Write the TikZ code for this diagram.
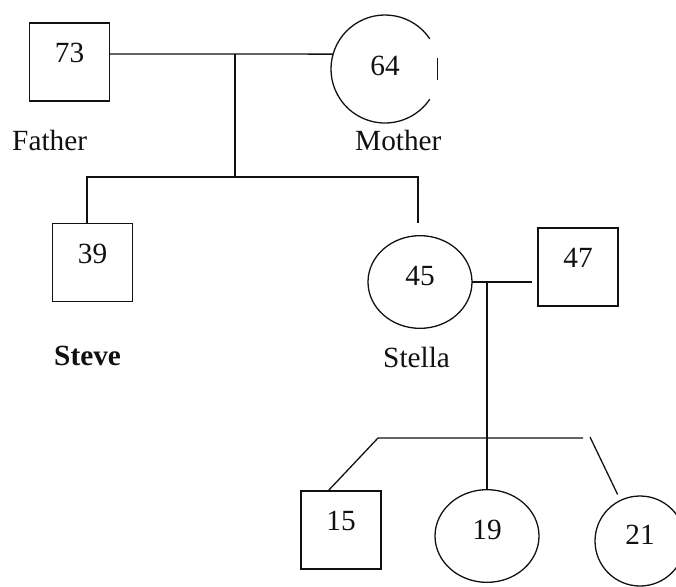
\documentclass[tikz,border=0pt]{standalone}
\usepackage{fontspec}
\setmainfont{Liberation Serif}
\usetikzlibrary{shapes.geometric}
\definecolor{ink}{HTML}{111111}
\newcommand{\pedfont}{\fontsize{25}{30}\selectfont}
\tikzset{
  every node/.style={text=ink, font=\pedfont},
  % males are squares, females ellipses; the age sits a little above the middle
  male/.style={draw=ink, rectangle, line width=1.1pt, outer sep=0pt,
               minimum width=2.4cm, minimum height=2.34cm, text depth=0.54cm},
  female/.style={draw=ink, ellipse, line width=1.1pt, outer sep=0pt,
                 minimum width=3.12cm, minimum height=2.78cm, text depth=0.36cm},
  who/.style={anchor=base west, inner sep=0pt},
  kin/.style={draw=ink, line width=1.1pt},
}

\begin{document}
\begin{tikzpicture}[x=0.03cm, y=-0.03cm]
  \useasboundingbox (0,0) rectangle (676,586);

  % ---- parents ----
  \node[male] (f73) at (69.5,62) {73};
  \node[female, circle, draw=none, minimum size=3.24cm, text depth=0.2cm] (m64) at (385,69) {64};
  % the mother's circle is broken on the right
  \draw[kin] (m64.34) arc[start angle=34, end angle=326, radius=1.62cm];
  \draw[kin] (m64.-12) -- (m64.12);
  \node[who] (father) at (12,150) {Father};
  \node[who] (mother) at (355,150) {Mother};

  \coordinate (p1) at (235,54);
  \coordinate (p2) at (235,177);
  \coordinate (p3) at (87,177);
  \coordinate (p4) at (418,177);
  \coordinate (p5) at (418,223);

  \draw[kin] ([yshift=0.24cm]f73.east) -- (m64.164);
  \draw[kin] (p1) -- (p2);

  % ---- children ----
  \node[male]   (s39) at (92.5,262.5) {39};
  \node[female] (s45) at (420,282) {45};
  \node[male]   (h47) at (578,267) {47};
  \node[who] (steve)  at (54,365)  {\textbf{Steve}};
  \node[who] (stella) at (383,367) {Stella};

  \draw[kin] (s39.north -| p3) -- (p3) -- (p4) -- (p5);
  \draw[kin, shorten >=0.18cm] (s45.east) -- (s45.east -| h47.west);

  % ---- grandchildren ----
  \node[male]   (g15) at (341,530) {15};
  \node[female] (d19) at (487,536) {19};
  \node[female, minimum width=2.7cm, minimum height=2.7cm] (d21) at (640,541) {21};

  \coordinate (q0) at (487,282);
  \coordinate (q1) at (487,438);
  \coordinate (q2) at (378,438);
  \coordinate (q3) at (583,438);
  \coordinate (q4) at (590,437);

  \draw[kin] (q0) -- (q1);
  \draw[kin] ([xshift=-0.39cm]g15.north) -- (q2) -- (q3);
  \draw[kin] (q1) -- (d19.north);
  \draw[kin, shorten >=0.2cm] (q4) -- (d21);
\end{tikzpicture}
\end{document}
